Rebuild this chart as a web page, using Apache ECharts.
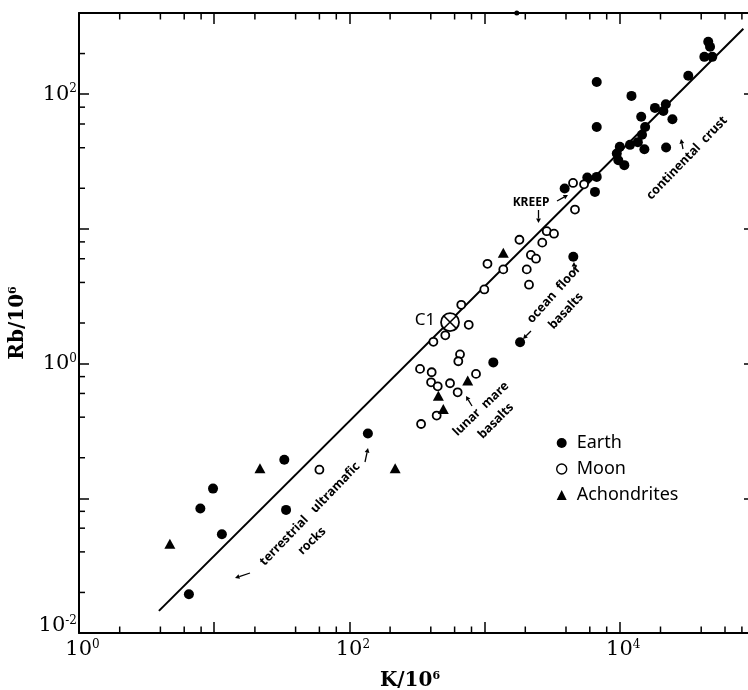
<!DOCTYPE html>
<html>
<head>
<meta charset="utf-8">
<script src="https://cdn.jsdelivr.net/npm/echarts@6/dist/echarts.min.js"></script>
<style>
  html, body { margin: 0; padding: 0; background: #fff; }
  #chart { width: 748px; height: 690px; }
</style>
</head>
<body>
<div id="chart"></div>
<script>
// values (K/10^6, Rb/10^6)
const earthK = [6.5, 7.9, 9.8, 11.4, 33, 34, 137, 1160, 1830, 4530, 3910, 5750, 6750, 6550,
  6750, 6750, 12200, 18200, 21900, 21000, 24500, 14400, 15400, 14600, 13600, 11900, 10000,
  9500, 9750, 10800, 15200, 22000, 32100, 45100, 46500, 42200, 48300]
const earthRb = [0.0194, 0.084, 0.118, 0.054, 0.193, 0.082, 0.303, 1.02, 1.44, 6.2, 19.9, 24.0, 24.3, 18.8,
  123, 57, 97, 79, 84, 75, 65, 68, 57, 50, 44, 42, 40.6,
  36.2, 32.3, 29.7, 39, 40.2, 137, 245, 225, 189, 189]

const moonK = [4660, 4510, 5440, 1810, 2880, 3260, 2670, 2200, 2400, 2050, 2130, 1050, 1375, 995,
  672, 763, 512, 418, 658, 639, 333, 406, 402, 450, 555, 632, 864, 442, 339, 60]
const moonRb = [13.9, 21.9, 21.4, 8.3, 9.6, 9.2, 7.9, 6.4, 6.0, 5.0, 3.85, 5.5, 5.0, 3.55,
  2.73, 1.94, 1.62, 1.45, 1.17, 1.04, 0.913, 0.862, 0.726, 0.678, 0.714, 0.612, 0.838, 0.411, 0.356, 0.163]

const achondriteK = [4.7, 21.8, 218, 1375, 750, 455, 495]
const achondriteRb = [0.046, 0.167, 0.167, 6.65, 0.747, 0.578, 0.46]

// off-scale point sitting on the top frame
const offScaleK = [1730]
const offScaleRb = [400]

// C1 chondrite reference point
const c1K = [555]
const c1Rb = [2.03]

// K/Rb reference line end points
const fitK = [3.9, 82000]
const fitRb = [0.0146, 306]

const xMinorTicks = [2, 4, 6, 8, 20, 40, 60, 80, 200, 400, 600, 800, 2000, 4000, 6000, 8000,
  20000, 40000, 60000, 80000]
const yMinorTicks = [0.02, 0.04, 0.06, 0.08, 0.2, 0.4, 0.6, 0.8, 2, 4, 6, 8, 20, 40, 60, 80, 200]

const pairs = (a, b) => a.map((v, i) => [v, b[i]])

const serif = 'DejaVu Serif'
const sans = 'Noto Sans'

const tickRich = {
  b: { fontFamily: serif, fontSize: 21, lineHeight: 22, color: '#000' },
  s: { fontFamily: serif, fontSize: 12, lineHeight: 11, verticalAlign: 'top', color: '#000' },
  gap: { lineHeight: 14 }
}
function powLabel(value) {
  const e = Math.round(Math.log10(value))
  if (e % 2 !== 0) return ''
  // lowest label sits a little above its tick, clear of the x axis
  if (e === -2) return '{b|10}{s|' + e + '}\n{gap| }'
  return '{b|10}{s|' + e + '}'
}

function arrow(x1, y1, x2, y2) {
  const a = Math.atan2(y2 - y1, x2 - x1)
  const h = 4.5, w = 2.4
  const bx = x2 - h * Math.cos(a), by = y2 - h * Math.sin(a)
  return [
    { type: 'line', shape: { x1: x1, y1: y1, x2: bx, y2: by }, style: { stroke: '#000', lineWidth: 1.3 } },
    { type: 'polygon', shape: { points: [[x2, y2], [bx - w * Math.sin(a), by + w * Math.cos(a)], [bx + w * Math.sin(a), by - w * Math.cos(a)]] }, style: { fill: '#000' } }
  ]
}
function note(text, x, y, deg, size) {
  return {
    type: 'text', x: x, y: y, rotation: deg * Math.PI / 180,
    style: { text: text, fontFamily: sans, fontWeight: 'bold', fontSize: size || 12.5, fill: '#000', align: 'center', verticalAlign: 'middle' }
  }
}

const notes = [
  note('KREEP', 531, 203, 0, 12),
  note('continental  crust', 687, 158, 46),
  note('ocean  floor', 554, 294, 48),
  note('basalts', 566, 311, 47),
  note('lunar  mare', 481, 409, 44),
  note('basalts', 496, 421, 45),
  note('terrestrial   ultramafic', 310, 514, 46),
  note('rocks', 312, 541, 44),
  { type: 'text', x: 425, y: 320, style: { text: 'C1', fontFamily: sans, fontSize: 17, fill: '#000', align: 'center', verticalAlign: 'middle' } }
]
const arrows = [].concat(
  arrow(557, 201, 568, 195),
  arrow(538.5, 210, 538.5, 223),
  arrow(683, 149, 681, 139),
  arrow(531, 331, 523, 339),
  arrow(574, 272, 574, 262),
  arrow(472, 406, 466, 396),
  arrow(250, 573, 235, 578),
  arrow(365, 462, 368, 448)
)

const chart = echarts.init(document.getElementById('chart'))

const option = {
  backgroundColor: '#fff',
  animation: false,
  // plot box runs past the right edge of the picture (10^5 at x=755)
  grid: { left: 79, top: 13, width: 676, height: 620, outerBoundsMode: 'none' },
  legend: {
    data: [
      { name: 'Earth' },
      { name: 'Moon', itemStyle: { borderWidth: 1.4 } },
      { name: 'Achondrites' }
    ],
    orient: 'vertical',
    left: 551, top: 429,
    itemWidth: 10, itemHeight: 10, itemGap: 8,
    symbolKeepAspect: true,
    selectedMode: false,
    textStyle: { fontFamily: sans, fontSize: 18, lineHeight: 18, color: '#000', padding: [0, 0, 0, 5] }
  },
  xAxis: [{
    type: 'log', logBase: 10, min: 1, max: 100000,
    name: 'K/10{m|6}', nameLocation: 'middle', nameGap: 38,
    nameTextStyle: {
      padding: [0, 14, 0, 0],
      rich: {
        m: { fontFamily: serif, fontWeight: 'bold', fontSize: 11, lineHeight: 11, verticalAlign: 'top', color: '#000' }
      },
      fontFamily: serif, fontWeight: 'bold', fontSize: 20, lineHeight: 20, color: '#000'
    },
    axisLine: { lineStyle: { color: '#000', width: 2 } },
    axisTick: { inside: true, length: 11, lineStyle: { color: '#000', width: 1.5 } },
    axisLabel: { formatter: powLabel, rich: tickRich, margin: 6, padding: [0, 0, 0, 7] },
    splitLine: { show: false }
  }, {
    type: 'log', logBase: 10, min: 1, max: 100000, position: 'top',
    axisLine: { lineStyle: { color: '#000', width: 2 } },
    axisTick: { inside: true, length: 11, lineStyle: { color: '#000', width: 1.5 } },
    axisLabel: { show: false },
    splitLine: { show: false }
  }],
  yAxis: [{
    type: 'log', logBase: 10, min: 0.01, max: 400,
    name: 'Rb/10{m|6}', nameLocation: 'middle', nameRotate: 90, nameGap: 51,
    nameTextStyle: {
      rich: {
        m: { fontFamily: serif, fontWeight: 'bold', fontSize: 11, lineHeight: 11, verticalAlign: 'top', color: '#000' }
      },
      fontFamily: serif, fontWeight: 'bold', fontSize: 20, lineHeight: 20, color: '#000'
    },
    axisLine: { lineStyle: { color: '#000', width: 2 } },
    axisTick: { inside: true, length: 10, lineStyle: { color: '#000', width: 1.5 } },
    axisLabel: { formatter: powLabel, rich: tickRich, margin: 2 },
    splitLine: { show: false }
  }, {
    type: 'log', logBase: 10, min: 0.01, max: 400, position: 'right',
    axisLine: { lineStyle: { color: '#000', width: 2 } },
    axisTick: { inside: true, length: 11, lineStyle: { color: '#000', width: 1.5 } },
    axisLabel: { show: false },
    splitLine: { show: false }
  }],
  graphic: { elements: notes.concat(arrows) },
  series: [
    {
      // minor ticks on bottom and top frame
      type: 'custom', silent: true, z: 1,
      data: xMinorTicks.map(v => [v, 1]),
      renderItem(params, api) {
        const cs = params.coordSys
        const x = api.coord([api.value(0), 1])[0]
        const yb = cs.y + cs.height
        return {
          type: 'group', children: [
            { type: 'line', shape: { x1: x, y1: yb, x2: x, y2: yb - 6.5 }, style: { stroke: '#000', lineWidth: 1.5 } },
            { type: 'line', shape: { x1: x, y1: cs.y, x2: x, y2: cs.y + 6.5 }, style: { stroke: '#000', lineWidth: 1.5 } }
          ]
        }
      }
    },
    {
      // minor ticks on left and right frame
      type: 'custom', silent: true, z: 1,
      data: yMinorTicks.map(v => [10, v]),
      renderItem(params, api) {
        const cs = params.coordSys
        const y = api.coord([10, api.value(1)])[1]
        const xr = cs.x + cs.width
        return {
          type: 'group', children: [
            { type: 'line', shape: { x1: cs.x, y1: y, x2: cs.x + 6, y2: y }, style: { stroke: '#000', lineWidth: 1.5 } },
            { type: 'line', shape: { x1: xr, y1: y, x2: xr - 6.5, y2: y }, style: { stroke: '#000', lineWidth: 1.5 } }
          ]
        }
      }
    },
    {
      type: 'line', name: 'fit', z: 2, silent: true,
      data: pairs(fitK, fitRb),
      symbol: 'none',
      lineStyle: { color: '#000', width: 2 }
    },
    {
      type: 'scatter', name: 'Earth', z: 3,
      data: pairs(earthK, earthRb),
      symbol: 'circle', symbolSize: 10,
      itemStyle: { color: '#000', opacity: 1 }
    },
    {
      type: 'scatter', name: 'Moon', z: 3,
      data: pairs(moonK, moonRb),
      symbol: 'circle', symbolSize: 8,
      itemStyle: { color: '#fff', borderColor: '#000', borderWidth: 1.8, opacity: 1 }
    },
    {
      type: 'scatter', name: 'Achondrites', z: 3,
      data: pairs(achondriteK, achondriteRb),
      symbol: 'triangle', symbolSize: [11, 10],
      itemStyle: { color: '#000', opacity: 1 }
    },
    {
      type: 'scatter', name: 'offscale', z: 3, clip: false,
      data: pairs(offScaleK, offScaleRb),
      symbol: 'circle', symbolSize: 5,
      itemStyle: { color: '#000', opacity: 1 }
    },
    {
      type: 'custom', name: 'C1', z: 4,
      data: pairs(c1K, c1Rb),
      renderItem(params, api) {
        const p = api.coord([api.value(0), api.value(1)])
        const d = 6.4
        return {
          type: 'group', children: [
            { type: 'circle', shape: { cx: p[0], cy: p[1], r: 9 }, style: { fill: '#fff', stroke: '#000', lineWidth: 1.8 } },
            { type: 'line', shape: { x1: p[0] - d, y1: p[1] - d, x2: p[0] + d, y2: p[1] + d }, style: { stroke: '#000', lineWidth: 1.6 } },
            { type: 'line', shape: { x1: p[0] - d, y1: p[1] + d, x2: p[0] + d, y2: p[1] - d }, style: { stroke: '#000', lineWidth: 1.6 } }
          ]
        }
      }
    }
  ]
}

chart.setOption(option)
</script>
</body>
</html>
